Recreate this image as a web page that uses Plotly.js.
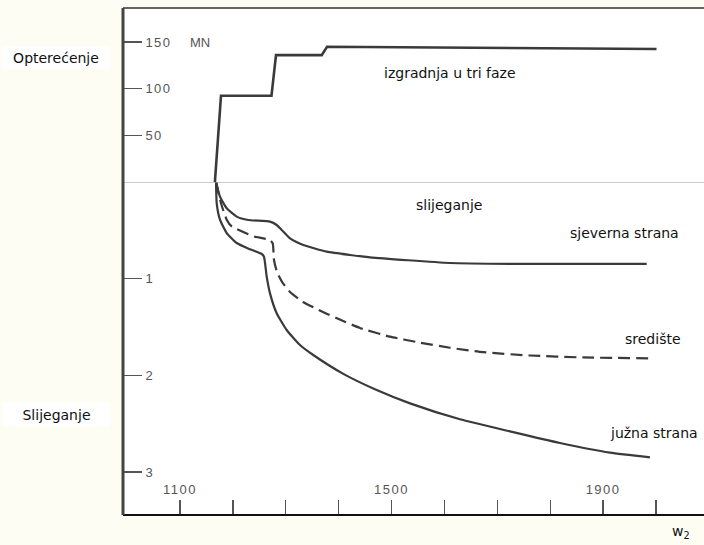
<!DOCTYPE html>
<html><head><meta charset="utf-8">
<script src="https://cdn.plot.ly/plotly-3.0.1.min.js"></script>
<style>
html,body{margin:0;padding:0;background:#fdfdf4;}
.xtick text, .ytick text, .y2tick text { letter-spacing: 1.5px; }
</style>
</head><body><div id="chart" style="width:704px;height:545px;"></div>
<script>
// Load (MN) vs time
const loadX = [1166, 1177.5, 1273, 1281.5, 1368, 1378, 2001];
const loadY = [0, 92.5, 92.5, 136, 136, 145, 142.5];
// Settlement curves
const northX = [1168.1, 1175.6, 1188.3, 1207.2, 1229.1, 1270.2, 1282.8, 1292.3, 1308, 1333.1, 1377.4, 1421.4, 1459.2, 1610.5, 1761.7, 1982.4];
const northY = [0, 0.152, 0.272, 0.358, 0.393, 0.410, 0.445, 0.496, 0.583, 0.651, 0.721, 0.755, 0.779, 0.838, 0.848, 0.848];
const centreX = [1168.1, 1177.5, 1188.3, 1197.7, 1232.4, 1241.8, 1270.2, 1275.3, 1277.7, 1283.4, 1292.9, 1308, 1332.6, 1370.4, 1396.8, 1440.3, 1497, 1553.8, 1610.5, 1672.9, 1761.7, 1861.9, 1988.6];
const centreY = [0, 0.22, 0.39, 0.46, 0.548, 0.566, 0.6, 0.634, 0.807, 0.931, 1.034, 1.138, 1.241, 1.345, 1.410, 1.510, 1.600, 1.662, 1.715, 1.760, 1.795, 1.815, 1.824];
const southX = [1168.1, 1169.4, 1175.6, 1188.3, 1207.2, 1232.4, 1254.5, 1258.8, 1263.9, 1270.2, 1282.8, 1301.7, 1326.9, 1352, 1408.8, 1471.9, 1534.9, 1629.4, 1723.9, 1818.5, 1913, 1988.6];
const southY = [0, 0.220, 0.390, 0.528, 0.631, 0.696, 0.745, 0.773, 0.979, 1.152, 1.358, 1.531, 1.686, 1.790, 1.985, 2.152, 2.290, 2.455, 2.580, 2.700, 2.800, 2.848];
// Ticks
const xTickVals = [1100, 1500, 1900];
const xTickText = ['1100', '1500', '1900'];
const xMinorTickVals = [1200, 1300, 1400, 1600, 1700, 1800, 2000];
const loadTickVals = [50, 100, 150];
const loadTickText = ['50', '100', '150'];
const loadUnit = 'MN';
const settleTickVals = [1, 2, 3];
const settleTickText = ['1', '2', '3'];
// Labels
const seriesNames = ['izgradnja u tri faze', 'sjeverna strana', 'središte', 'južna strana'];

const lineCol = '#3a3a3a';
const traces = [
  {x: loadX, y: loadY, xaxis: 'x', yaxis: 'y', mode: 'lines', name: seriesNames[0],
   line: {color: lineCol, width: 2.6}},
  {x: northX, y: northY, xaxis: 'x', yaxis: 'y2', mode: 'lines', name: seriesNames[1],
   line: {color: lineCol, width: 2.2, shape: 'spline', smoothing: 0.5}},
  {x: centreX, y: centreY, xaxis: 'x', yaxis: 'y2', mode: 'lines', name: seriesNames[2],
   line: {color: lineCol, width: 2.2, dash: '12px,6px', shape: 'spline', smoothing: 0.5}},
  {x: southX, y: southY, xaxis: 'x', yaxis: 'y2', mode: 'lines', name: seriesNames[3],
   line: {color: lineCol, width: 2.2, shape: 'spline', smoothing: 0.5}}
];

const tickFont = {family: 'Liberation Sans, Arial, sans-serif', size: 13, color: '#555'};
const txtFont = {family: 'DejaVu Sans, sans-serif', size: 14, color: '#111'};

const layout = {
  width: 704, height: 545,
  margin: {l: 123, r: 0, t: 8, b: 30, pad: 0},
  paper_bgcolor: '#fdfdf4',
  plot_bgcolor: '#ffffff',
  showlegend: false,
  xaxis: {
    range: [992.2, 2090.8], anchor: 'y2',
    tickmode: 'array', tickvals: xTickVals, ticktext: xTickText,
    ticks: 'inside', ticklen: 15, tickwidth: 1.3, tickcolor: '#555',
    minor: {tickmode: 'array', tickvals: xMinorTickVals, ticks: 'inside', ticklen: 15, tickwidth: 1.3, tickcolor: '#555', showgrid: false},
    ticklabelposition: 'inside', ticklabelstandoff: 3,
    tickfont: tickFont, showgrid: false, zeroline: false, showline: false
  },
  yaxis: {
    domain: [0.6568, 1], range: [0, 186.5], anchor: 'x',
    tickmode: 'array', tickvals: loadTickVals, ticktext: loadTickText,
    ticks: 'inside', ticklen: 19, tickwidth: 1.3, tickcolor: '#555',
    ticklabelposition: 'inside', ticklabelstandoff: 3,
    tickfont: tickFont, showgrid: false, zeroline: false, showline: false
  },
  yaxis2: {
    domain: [0, 0.6568], range: [3.445, 0], anchor: 'x',
    tickmode: 'array', tickvals: settleTickVals, ticktext: settleTickText,
    ticks: 'inside', ticklen: 19, tickwidth: 1.3, tickcolor: '#555',
    ticklabelposition: 'inside', ticklabelstandoff: 3,
    tickfont: tickFont, showgrid: false, zeroline: false, showline: false
  },
  shapes: [
    {type: 'line', xref: 'paper', yref: 'y2', x0: 0, x1: 1, y0: 0, y1: 0, line: {color: '#9a9a9a', width: 1}},
    {type: 'line', xref: 'paper', yref: 'paper', x0: 0, x1: 1, y0: 1, y1: 1, line: {color: '#666', width: 2}},
    {type: 'line', xref: 'paper', yref: 'paper', x0: 0, x1: 1, y0: 0, y1: 0, line: {color: '#111', width: 2}},
    {type: 'line', xref: 'paper', yref: 'paper', x0: 0, x1: 0, y0: 0, y1: 1, line: {color: '#444', width: 3}}
  ],
  annotations: [
    {text: loadUnit, xref: 'x', yref: 'y', x: 1115, y: loadTickVals[2], xanchor: 'left', yanchor: 'middle', showarrow: false, font: tickFont},
    {text: seriesNames[0], xref: 'x', yref: 'y', x: 1482, y: 116.8, xanchor: 'left', yanchor: 'middle', showarrow: false, font: txtFont},
    {text: 'slijeganje', xref: 'x', yref: 'y2', x: 1542, y: 0.238, xanchor: 'left', yanchor: 'middle', showarrow: false, font: txtFont},
    {text: seriesNames[1], xref: 'x', yref: 'y2', x: 1833.6, y: 0.528, xanchor: 'left', yanchor: 'middle', showarrow: false, font: txtFont},
    {text: seriesNames[2], xref: 'x', yref: 'y2', x: 1937.6, y: 1.624, xanchor: 'left', yanchor: 'middle', showarrow: false, font: txtFont},
    {text: seriesNames[3], xref: 'x', yref: 'y2', x: 1909, y: 2.597, xanchor: 'left', yanchor: 'middle', showarrow: false, font: txtFont},
    {text: 'w<sub>2</sub>', xref: 'paper', yref: 'paper', x: 0.9415, y: -0.0335, xanchor: 'left', yanchor: 'middle', showarrow: false, font: txtFont},
    {text: 'Opterećenje', xref: 'paper', yref: 'paper', x: -0.1145, y: 0.902, xanchor: 'center', yanchor: 'middle', showarrow: false, font: txtFont, bgcolor: '#ffffff', width: 104, height: 19},
    {text: 'Slijeganje', xref: 'paper', yref: 'paper', x: -0.1145, y: 0.198, xanchor: 'center', yanchor: 'middle', showarrow: false, font: txtFont, bgcolor: '#ffffff', width: 103, height: 21}
  ]
};

Plotly.newPlot('chart', traces, layout, {displayModeBar: false, staticPlot: true});
</script>
</body></html>
